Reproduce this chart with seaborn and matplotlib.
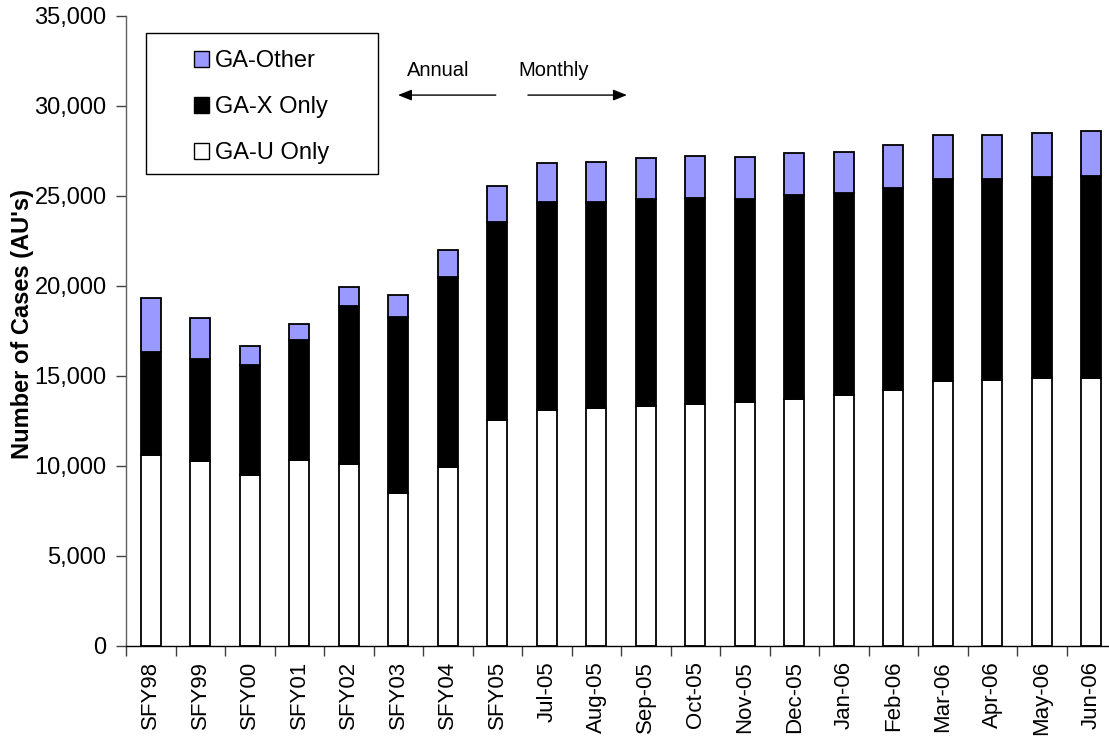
import matplotlib
matplotlib.use("Agg")
import matplotlib.pyplot as plt
from matplotlib.patches import Patch, Rectangle
from matplotlib.ticker import FuncFormatter, FixedLocator
import seaborn as sns
import numpy as np

plt.rcParams['font.family'] = ['Liberation Sans', 'DejaVu Sans']

categories = ["SFY98", "SFY99", "SFY00", "SFY01", "SFY02", "SFY03", "SFY04", "SFY05",
              "Jul-05", "Aug-05", "Sep-05", "Oct-05", "Nov-05", "Dec-05", "Jan-06",
              "Feb-06", "Mar-06", "Apr-06", "May-06", "Jun-06"]
ga_u_only = [10610, 10260, 9480, 10300, 10080, 8480, 9910, 12540, 13080, 13190,
             13300, 13440, 13520, 13700, 13910, 14190, 14710, 14760, 14890, 14890]
ga_x_only = [5720, 5650, 6100, 6670, 8810, 9800, 10570, 11020, 11570, 11460,
             11520, 11450, 11300, 11320, 11220, 11250, 11200, 11150, 11130, 11220]
ga_other = [2970, 2310, 1090, 920, 1050, 1190, 1500, 2000, 2170, 2210,
            2260, 2320, 2350, 2340, 2310, 2380, 2460, 2460, 2460, 2480]
series_names = ["GA-Other", "GA-X Only", "GA-U Only"]
series_colors = ["#9999FF", "#000000", "#FFFFFF"]
yticks = [0, 5000, 10000, 15000, 20000, 25000, 30000, 35000]

W, H = 1109, 736
fig = plt.figure(figsize=(W / 100, H / 100), dpi=100)
ax = fig.add_axes([126 / W, (H - 645.7) / H, 990 / W, 630 / H])

u = np.array(ga_u_only)
x = np.array(ga_x_only)
o = np.array(ga_other)

common = dict(width=0.4, edgecolor="black", linewidth=1.3, saturation=1, ax=ax)
sns.barplot(x=categories, y=u, color=series_colors[2], **common)
sns.barplot(x=categories, y=x, bottom=u, color=series_colors[1], **common)
sns.barplot(x=categories, y=o, bottom=u + x, color=series_colors[0], **common)

n = len(categories)
ax.set_xlim(-0.5, n - 0.5)
ax.set_ylim(0, 35000)
ax.set_yticks(yticks)
ax.yaxis.set_major_formatter(FuncFormatter(lambda v, p: f"{int(v):,}"))
ax.tick_params(axis="y", direction="out", length=7, width=1, pad=7, labelsize=17,
               colors="black")
ax.tick_params(axis="y", color="#404040")
ax.set_xticks(range(n))
ax.set_xticklabels(categories, rotation=90)
ax.tick_params(axis="x", which="major", length=0, pad=11, labelsize=16)
ax.xaxis.set_minor_locator(FixedLocator(np.arange(-0.5, n, 1.0)))
ax.tick_params(axis="x", which="minor", direction="out", length=7, width=1, color="#404040")

for s in ["top", "right"]:
    ax.spines[s].set_visible(False)
ax.spines["left"].set_color("#606060")
ax.spines["left"].set_linewidth(1)
ax.spines["bottom"].set_color("black")
ax.spines["bottom"].set_linewidth(1)

ax.set_xlabel("")
ax.set_ylabel("Number of Cases (AU's)", fontsize=17, fontweight="bold")
ax.yaxis.set_label_coords(-0.093, 0.511)

# legend
handles = [Patch(facecolor=c, edgecolor="black", linewidth=1) for c in series_colors]
leg = fig.legend(handles, series_names, loc="upper left",
                 bbox_to_anchor=(194 / W, 1 - 50 / H), bbox_transform=fig.transFigure,
                 frameon=False, fontsize=17, handlelength=0.64, handleheight=0.64,
                 handletextpad=0.25, labelspacing=1.02, borderpad=0, borderaxespad=0)
fig.add_artist(Rectangle((146 / W, 1 - 174 / H), 232 / W, 140.7 / H,
                         transform=fig.transFigure, fill=False, edgecolor="black",
                         linewidth=1))

# annual / monthly annotation
arrow_kw = dict(arrowstyle="-|>,head_length=0.55,head_width=0.22", color="black",
                lw=1, shrinkA=0, shrinkB=0, mutation_scale=15)
ax.annotate("", xy=(4.995, 30590), xytext=(6.97, 30590), arrowprops=arrow_kw,
            annotation_clip=False)
ax.annotate("", xy=(9.62, 30590), xytext=(7.62, 30590), arrowprops=arrow_kw,
            annotation_clip=False)
ax.text(5.81, 31980, "Annual", fontsize=14.5, ha="center", va="center")
ax.text(8.13, 31980, "Monthly", fontsize=14.5, ha="center", va="center")

fig.savefig("out.png", dpi=100)
